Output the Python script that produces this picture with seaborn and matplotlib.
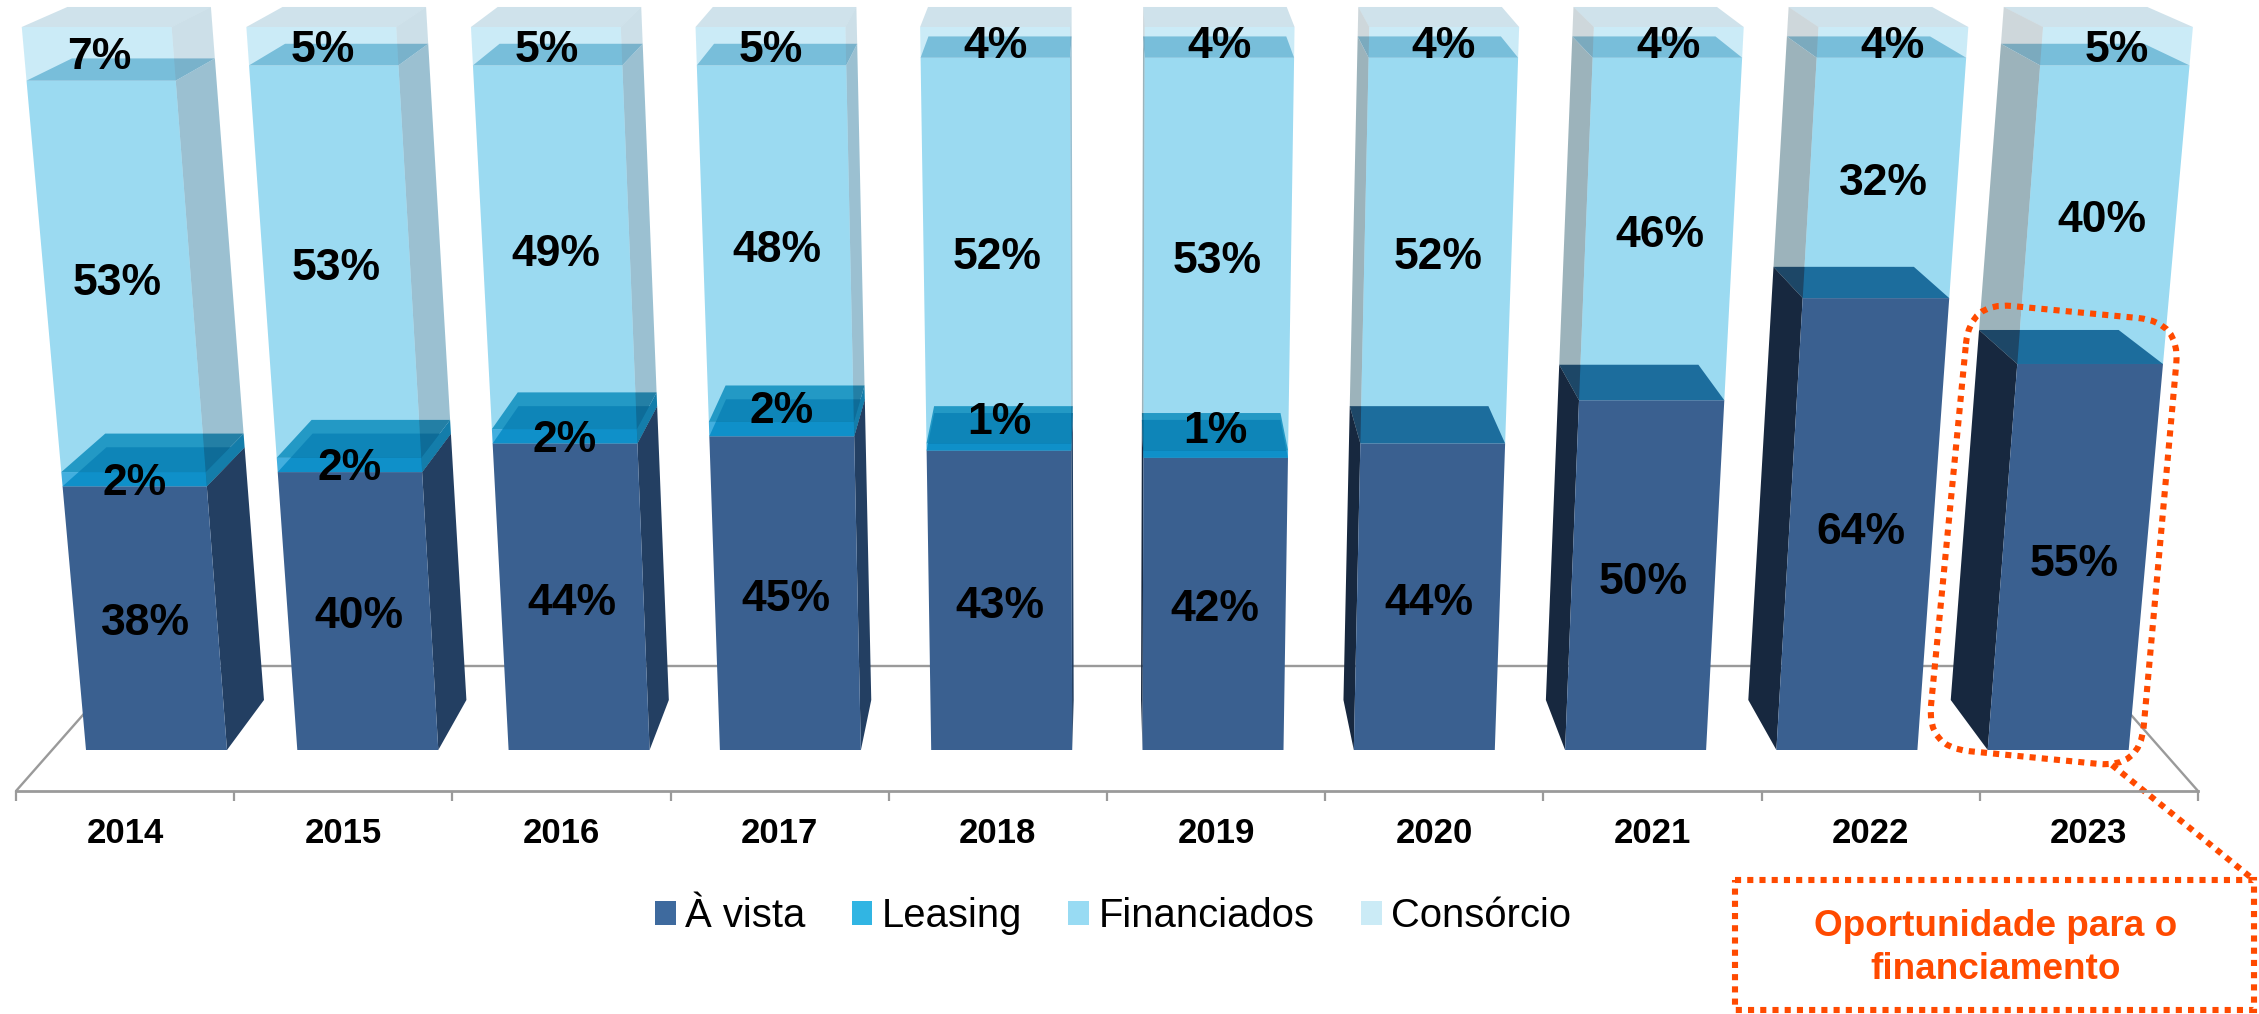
import numpy as np
import matplotlib
matplotlib.use("Agg")
import matplotlib.pyplot as plt
from matplotlib.patches import Polygon, Patch, PathPatch, Rectangle
from matplotlib.path import Path
from matplotlib.transforms import Affine2D, Transform
import seaborn as sns

years = ["2014", "2015", "2016", "2017", "2018", "2019", "2020", "2021", "2022", "2023"]
a_vista = [38, 40, 44, 45, 43, 42, 44, 50, 64, 55]
leasing = [2, 2, 2, 2, 1, 1, 0, 0, 0, 0]
financiados = [53, 53, 49, 48, 52, 53, 52, 46, 32, 40]
consorcio = [7, 5, 5, 5, 4, 4, 4, 4, 4, 5]
legend_labels = ["À vista", "Leasing", "Financiados", "Consórcio"]
legend_colors = ["#3E6A9E", "#31B5E3", "#98DBF3", "#CBEBF6"]
leasing_label_shift = [0, 0, 0, -22, -29, -27, 0, 0, 0, 0]

W, H = 2259, 1014
sns.set_theme(style="white")
plt.rcParams["font.family"] = ["Liberation Sans", "DejaVu Sans"]

fig = plt.figure(figsize=(W / 100, H / 100), dpi=100)
ax = fig.add_axes([0, 0, 1, 1])
px = Affine2D().scale(1, -1).translate(0, H)

# projection of the 3-D perspective
X0, STEP, BASE, XC, BAR_W = 156.5, 211.3, 750.0, 1107.5, 141.0
WIDTH_CAT = BAR_W / STEP


def project(x, p, back=False):
    x, p = np.asarray(x, float), np.asarray(p, float)
    h = p * (6.76 + 0.0047 * p)
    xp = X0 + x * STEP
    X = XC + (xp - XC) * (1 + 8.7e-5 * h)
    Y = BASE - h
    if back:
        X = XC + (X - XC) * 0.958
        Y = Y - (0.0415 * Y + 18.9)
    return X, Y


class Fan(Transform):
    input_dims = output_dims = 2
    is_separable = False
    has_inverse = False

    def transform_non_affine(self, values):
        v = np.asarray(values, float)
        X, Y = project(v[:, 0], v[:, 1])
        return np.column_stack([X, Y])


fan_to_fig = Fan() + px


def rgb(r, g, b):
    return (r / 255, g / 255, b / 255)


def face(pts, color, z, alpha=1.0):
    ax.add_patch(Polygon(pts, closed=True, facecolor=color, edgecolor="none", linewidth=0,
                         alpha=alpha, transform=px, zorder=z, clip_on=False))


def cap(i, p, color, z, alpha=1.0):
    l, r = i - WIDTH_CAT / 2, i + WIDTH_CAT / 2
    face([project(l, p), project(r, p), project(r, p, True), project(l, p, True)], color, z, alpha)


def side(i, p0, p1, color, z, alpha=1.0):
    e = i + WIDTH_CAT / 2 if (X0 + i * STEP) < XC else i - WIDTH_CAT / 2
    face([project(e, p0), project(e, p1), project(e, p1, True), project(e, p0, True)], color, z, alpha)


series = [a_vista, leasing, financiados, consorcio]
front_style = [(rgb(58, 96, 144), 1.0, 4), (rgb(19, 155, 215), 0.8, 11),
               (rgb(33, 173, 226), 0.45, 6), (rgb(51, 179, 227), 0.25, 9)]
cum = np.zeros(len(years))
tops = []
for vals, (col, al, layer) in zip(series, front_style):
    sns.barplot(x=years, y=vals, order=years, color=col, saturation=1, width=WIDTH_CAT,
                errorbar=None, linewidth=0, ax=ax)
    for i, rect in enumerate(ax.containers[-1]):
        rect.set_y(cum[i])
        rect.set_alpha(al)
        rect.set_linewidth(0)
        rect.set_transform(fan_to_fig)
        rect.set_clip_on(False)
        rect.set_zorder(10 + 20 * i + layer)
    cum = cum + np.array(vals)
    tops.append(cum.copy())

ax.set_xlim(0, 1)
ax.set_ylim(0, 1)
ax.axis("off")

for i in range(len(years)):
    z = 10 + 20 * i
    t_v, t_l, t_f, t_c = tops[0][i], tops[1][i], tops[2][i], tops[3][i]
    right_facing = (X0 + i * STEP) < XC
    cap(i, t_c, rgb(207, 226, 235), z)
    if leasing[i] > 0:
        cap(i, t_l, rgb(37, 137, 175), z + 1)
        cap(i, t_v, rgb(0, 102, 150), z + 2)
        side(i, t_v, t_l, rgb(20, 125, 170), z + 10)
    else:
        cap(i, t_v, rgb(24, 58, 102), z + 2)
    side(i, 0, t_v, rgb(35, 63, 98) if right_facing else rgb(23, 40, 63), z + 3)
    side(i, t_l, t_f, rgb(33, 117, 155) if right_facing else rgb(37, 88, 106), z + 5, 0.45)
    cap(i, t_f, rgb(144, 194, 216), z + 7)
    side(i, t_f, t_c, rgb(55, 131, 167) if right_facing else rgb(63, 99, 115), z + 8, 0.25)

    bottoms = [0, t_v, t_l, t_f]
    for k, vals in enumerate(series):
        if vals[i] > 0:
            X, Y = project(i, bottoms[k] + vals[i] / 2)
            Y = Y + 4
            if k == 1:
                Y = Y + leasing_label_shift[i]
            ax.text(X, Y, f"{vals[i]}%", transform=px, ha="center", va="center",
                    fontsize=32, fontweight="bold", color="black", zorder=500, clip_on=False)

# floor behind the bars
GREY = "#9A9A9A"
ax.plot([16, 126, 2088, 2198], [791, 666, 666, 791], color=GREY, lw=1.7, transform=px,
        zorder=2, clip_on=False)

# category axis at the floor front edge
fa = fig.add_axes([16 / W, 1 - 791 / H, (2198 - 16) / W, 0.001], facecolor="none")
fa.set_xlim(0, 10)
fa.set_ylim(0, 1)
fa.set_yticks([])
fa.set_xticks(np.arange(11))
fa.set_xticklabels([])
fa.set_xticks(np.arange(10) + 0.5, minor=True)
fa.set_xticklabels(years, minor=True, fontsize=25, fontweight="bold", color="black")
fa.tick_params(axis="x", which="major", bottom=True, length=7.5, width=1.6, color=GREY)
fa.tick_params(axis="x", which="minor", bottom=False, length=0, pad=19)
sns.despine(ax=fa, left=True, right=True, top=True)
fa.spines["bottom"].set_color(GREY)
fa.spines["bottom"].set_linewidth(2)
fa.patch.set_visible(False)

# legend
handles = [Patch(facecolor=c, edgecolor="none", label=l) for c, l in zip(legend_colors, legend_labels)]
ax.legend(handles=handles, loc="center", bbox_to_anchor=(1113, 916), bbox_transform=px,
          ncols=4, frameon=False, fontsize=28.8, handlelength=0.52, handleheight=0.55,
          handletextpad=0.24, columnspacing=1.15, borderpad=0, borderaxespad=0,
          labelcolor="black")

# highlight
ORANGE = "#FF4A00"
dots = (0, (1, 1))


def rounded(pts, r):
    pts = [np.array(p, float) for p in pts]
    n = len(pts)
    verts, codes = [], []
    for i in range(n):
        p, prev, nxt = pts[i], pts[i - 1], pts[(i + 1) % n]
        a = p + (prev - p) / np.linalg.norm(prev - p) * r
        b = p + (nxt - p) / np.linalg.norm(nxt - p) * r
        verts += [a, p, b]
        codes += [Path.MOVETO if i == 0 else Path.LINETO, Path.CURVE3, Path.CURVE3]
    verts.append(verts[0])
    codes.append(Path.CLOSEPOLY)
    return Path(verts, codes)


ax.add_patch(PathPatch(rounded([(1970, 302), (2180, 322), (2140, 768), (1927, 747)], 42),
                       facecolor="none", edgecolor=ORANGE, lw=4.4, linestyle=dots,
                       transform=px, zorder=600, clip_on=False))
ax.plot([2112, 2254], [765, 880], color=ORANGE, lw=4.4, linestyle=dots, transform=px,
        zorder=600, clip_on=False)
ax.add_patch(Rectangle((1735, 880), 519, 130, facecolor="none", edgecolor=ORANGE, lw=4.4,
                       linestyle=dots, transform=px, zorder=600, clip_on=False))
ax.text(1996, 948, "Oportunidade para o\nfinanciamento", transform=px, ha="center", va="center",
        fontsize=26.6, fontweight="bold", color=ORANGE, linespacing=1.26, zorder=600)

fig.savefig("out.png", dpi=100, facecolor="white")
